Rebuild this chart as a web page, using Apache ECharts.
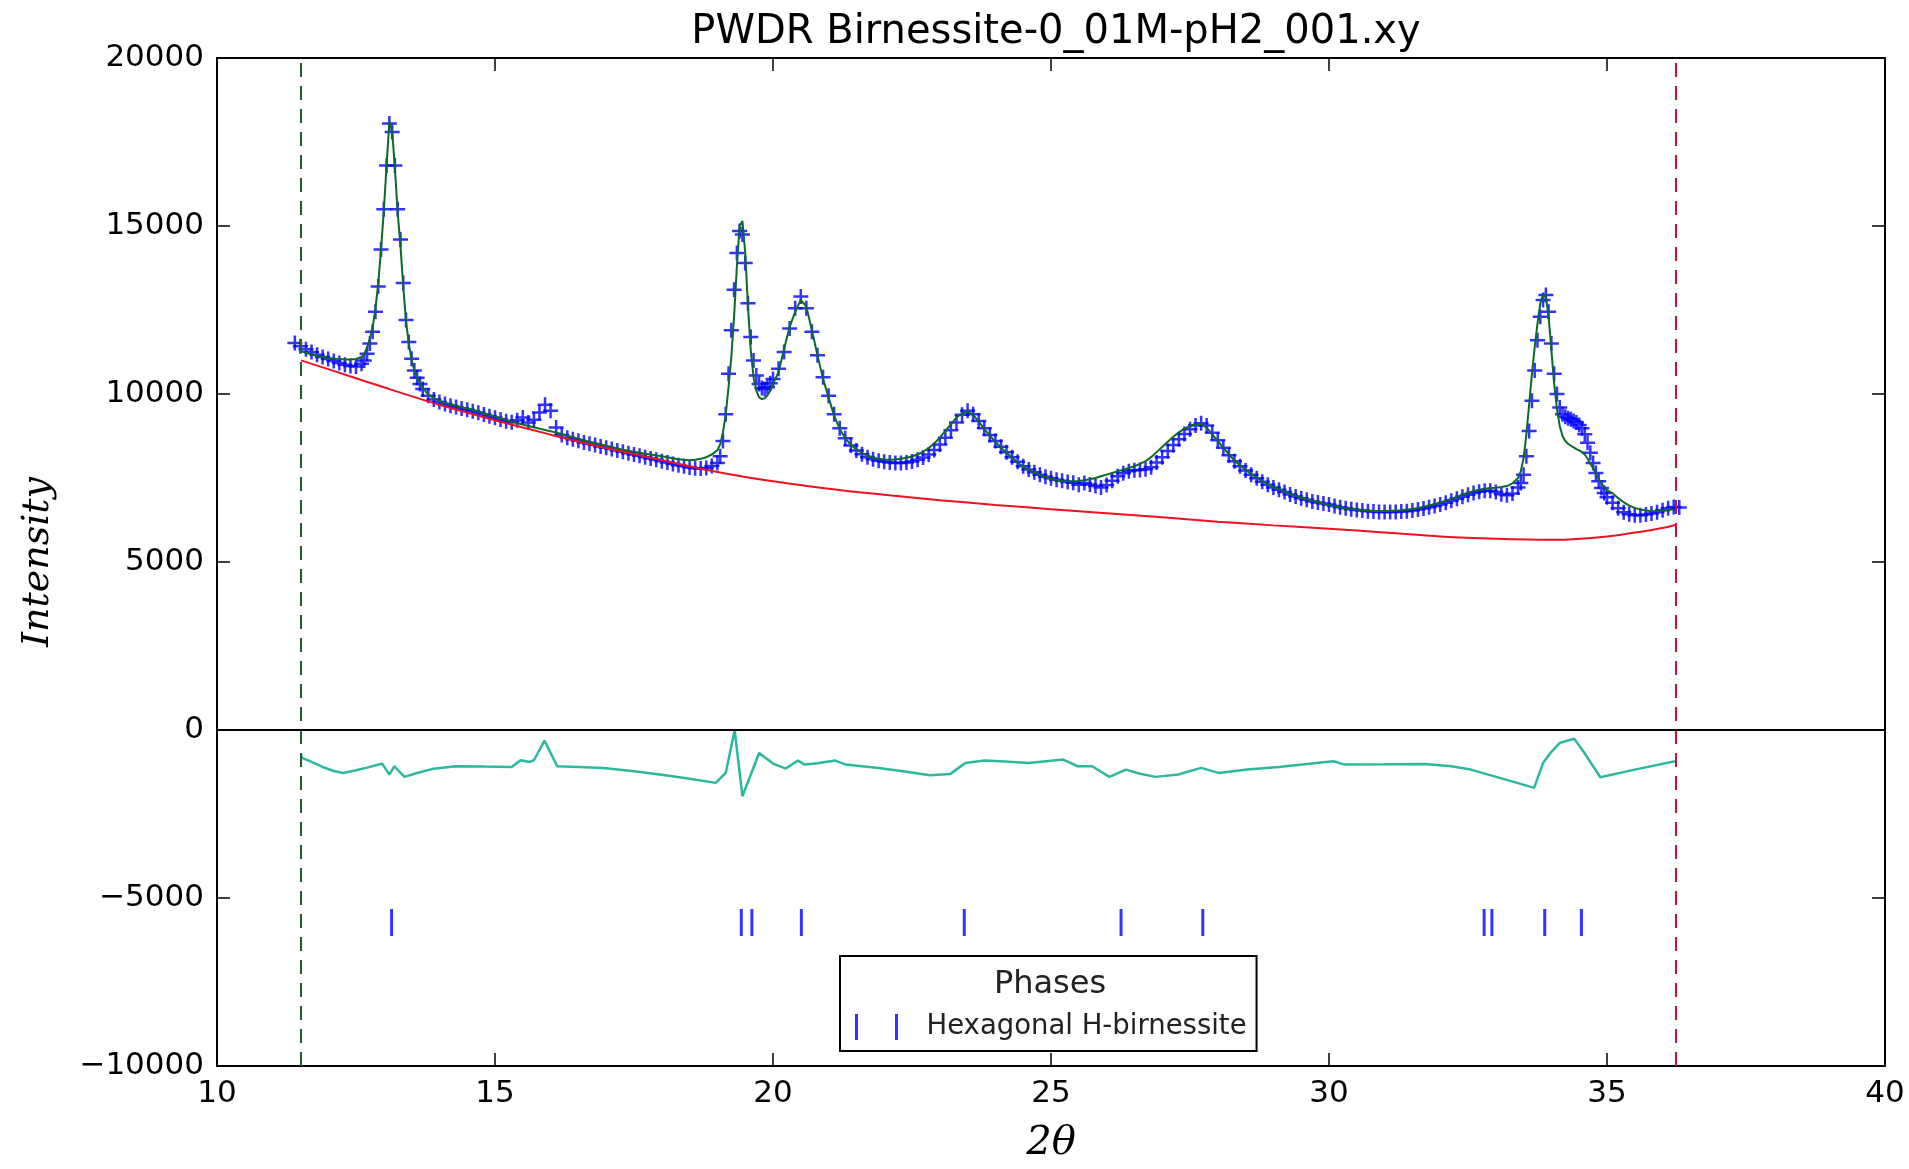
<!DOCTYPE html>
<html><head><meta charset="utf-8">
<script src="https://cdn.jsdelivr.net/npm/echarts/dist/echarts.min.js"></script>
<style>html,body{margin:0;padding:0;background:#fff}#chart{width:1909px;height:1169px}</style>
</head><body><div id="chart"></div>
<script>
// ---- data ----
const twoTheta = [
  11.4,11.5,11.6,11.7,11.8,11.9,12.0,12.1,12.2,12.3,12.4,12.5,12.6,
  12.65,12.7,12.75,12.8,12.85,12.9,12.95,13.0,13.05,13.1,13.15,13.2,13.25,13.3,13.35,13.4,13.45,13.5,13.55,13.6,13.65,13.7,
  13.8,13.9,14.0,14.1,14.2,14.3,14.4,14.5,14.6,14.7,14.8,14.9,15.0,15.1,15.2,15.3,15.4,15.5,15.6,15.7,15.8,15.9,
  16.0,16.1,16.2,16.3,16.4,16.5,16.6,16.7,16.8,16.9,17.0,17.1,17.2,17.3,17.4,17.5,17.6,17.7,17.8,17.9,
  18.0,18.1,18.2,18.3,18.4,18.5,18.6,18.7,18.8,18.9,
  19.0,19.05,19.1,19.15,19.2,19.25,19.3,19.35,19.4,19.45,19.5,19.55,19.6,19.65,19.7,19.75,19.8,19.85,19.9,19.95,
  20.0,20.1,20.2,20.3,20.4,20.5,20.6,20.7,20.8,20.9,
  21.0,21.1,21.2,21.3,21.4,21.5,21.6,21.7,21.8,21.9,
  22.0,22.1,22.2,22.3,22.4,22.5,22.6,22.7,22.8,22.9,
  23.0,23.1,23.2,23.3,23.4,23.5,23.6,23.7,23.8,23.9,
  24.0,24.1,24.2,24.3,24.4,24.5,24.6,24.7,24.8,24.9,
  25.0,25.1,25.2,25.3,25.4,25.5,25.6,25.7,25.8,25.9,
  26.0,26.1,26.2,26.3,26.4,26.5,26.6,26.7,26.8,26.9,
  27.0,27.1,27.2,27.3,27.4,27.5,27.6,27.7,27.8,27.9,
  28.0,28.1,28.2,28.3,28.4,28.5,28.6,28.7,28.8,28.9,
  29.0,29.1,29.2,29.3,29.4,29.5,29.6,29.7,29.8,29.9,
  30.0,30.1,30.2,30.3,30.4,30.5,30.6,30.7,30.8,30.9,
  31.0,31.1,31.2,31.3,31.4,31.5,31.6,31.7,31.8,31.9,
  32.0,32.1,32.2,32.3,32.4,32.5,32.6,32.7,32.8,32.9,
  33.0,33.1,33.2,33.3,33.4,
  33.45,33.5,33.55,33.6,33.65,33.7,33.75,33.8,33.85,33.9,33.95,34.0,34.05,34.1,34.15,34.2,34.25,34.3,34.35,34.4,
  34.45,34.5,34.55,34.6,34.65,34.7,34.75,34.8,34.85,34.9,34.95,35.0,
  35.1,35.2,35.3,35.4,35.5,35.6,35.7,35.8,35.9,36.0,36.1,36.2,36.3
];
const observed = [
  11520,11420,11330,11250,11170,11100,11040,10980,10920,10870,10830,10820,10900,
  11000,11200,11500,11850,12450,13200,14300,15500,16800,18050,17800,16800,15500,14600,13300,12200,11550,11050,10700,10480,10300,10150,
  9950,9840,9760,9700,9650,9610,9570,9530,9490,9440,9390,9340,9290,9240,9190,9160,9220,9300,9150,9230,9450,9680,
  9500,9000,8780,8700,8650,8610,8560,8520,8480,8440,8400,8360,8320,8280,8240,8200,8160,8120,8080,8040,
  8000,7960,7920,7880,7850,7810,7790,7780,7800,7860,
  7950,8150,8600,9400,10600,11900,13100,14200,14850,14750,13900,12700,11700,11000,10550,10300,10180,10150,10200,10320,
  10450,10750,11250,11950,12550,12900,12550,11850,11150,10500,
  9950,9400,8980,8680,8470,8320,8210,8120,8060,8010,
  7980,7960,7950,7950,7960,7990,8040,8110,8200,8330,
  8500,8700,8920,9150,9380,9500,9400,9200,8980,8780,
  8600,8430,8270,8120,7980,7850,7750,7670,7600,7540,
  7490,7450,7420,7380,7360,7300,7350,7310,7260,7220,
  7290,7420,7550,7640,7700,7730,7740,7760,7820,7960,
  8120,8300,8480,8650,8810,8950,9060,9130,9060,8850,
  8620,8400,8180,8000,7850,7720,7600,7490,7390,7300,
  7220,7150,7080,7010,6950,6900,6850,6800,6770,6740,
  6710,6670,6630,6600,6570,6550,6530,6510,6500,6490,
  6490,6490,6490,6500,6510,6530,6560,6590,6630,6670,
  6710,6760,6820,6880,6940,7000,7050,7090,7120,7120,
  7080,7020,6990,7040,7220,
  7350,7600,8150,8900,9800,10700,11600,12300,12800,12950,12450,11500,10600,10000,9600,9400,9320,9280,9250,9200,
  9150,9080,8980,8800,8550,8250,7950,7650,7400,7200,7050,6930,
  6760,6600,6480,6420,6390,6390,6410,6440,6480,6540,6600,6640,6620
];
const calculated = [
  null,11280,11230,11180,11140,11100,11070,11050,11040,11030,11030,11040,11100,
  11200,11380,11650,12000,12550,13300,14300,15450,16800,18100,17850,16700,15400,14400,13200,12150,11500,11020,10700,10490,10330,10190,
  9980,9880,9800,9740,9690,9650,9610,9570,9530,9480,9430,9380,9330,9280,9230,9180,9130,9090,9050,9010,8970,8930,
  8890,8850,8810,8760,8710,8670,8620,8580,8540,8500,8460,8420,8380,8340,8310,8280,8250,8220,8200,8170,
  8150,8120,8090,8060,8040,8030,8040,8070,8120,8200,
  8330,8500,8850,9400,10200,11100,12300,13800,15000,15150,14200,12600,11300,10500,10100,9900,9850,9870,9960,10100,
  10300,10650,11350,12000,12450,12800,12600,11900,11150,10450,
  9900,9350,8960,8680,8490,8350,8250,8170,8110,8070,
  8050,8040,8050,8070,8100,8140,8200,8280,8390,8530,
  8700,8900,9100,9300,9420,9480,9380,9180,8960,8760,
  8580,8410,8250,8100,7960,7840,7740,7660,7590,7530,
  7480,7440,7410,7400,7400,7410,7430,7460,7500,7550,
  7600,7650,7700,7750,7800,7850,7920,8000,8120,8270,
  8420,8580,8730,8860,8970,9050,9100,9100,9000,8800,
  8600,8400,8200,8020,7870,7740,7620,7510,7410,7320,
  7240,7170,7100,7030,6970,6920,6870,6820,6780,6740,
  6700,6660,6630,6600,6580,6560,6540,6530,6520,6520,
  6520,6520,6530,6540,6560,6580,6610,6640,6680,6720,
  6770,6820,6880,6940,7000,7060,7110,7150,7180,7200,
  7210,7230,7260,7340,7500,
  7700,8100,8800,9700,10600,11400,12100,12700,12950,12900,12300,11300,10300,9550,9050,8750,8600,8520,8460,8410,
  8360,8320,8270,8200,8080,7920,7800,7620,7470,7340,7230,7130,
  7050,6900,6780,6680,6610,6560,6530,6510,6510,6530,6550,6570,null
];
const bgTheta   = [11.51,12,13,14,15,16,17,18,19,20,21,22,23,24,25,26,27,28,29,30,31,32,33,34,35,36,36.23];
const background= [11000,10740,10200,9680,9220,8790,8390,8030,7680,7400,7180,7000,6840,6700,6570,6450,6330,6200,6090,5990,5880,5760,5690,5660,5760,6010,6100];
const diffTheta = [11.51,11.53,11.7,11.9,12.1,12.27,12.5,12.7,12.91,12.97,13.1,13.19,13.37,13.6,13.9,14.29,14.8,15.3,15.46,15.62,15.7,15.89,16.12,16.5,16.95,17.5,18.0,18.5,18.97,19.15,19.31,19.45,19.75,20.0,20.23,20.45,20.57,20.8,21.12,21.31,21.6,21.9,22.4,22.82,23.19,23.46,23.8,24.09,24.6,25.22,25.48,25.74,26.05,26.35,26.6,26.88,27.29,27.7,28.01,28.53,29.1,29.77,30.08,30.28,31.0,31.73,32.2,32.55,33.07,33.4,33.69,33.85,34.0,34.15,34.41,34.6,34.88,35.5,36.22];
const difference= [-720,-830,-950,-1100,-1220,-1277,-1200,-1120,-1029,-1000,-1326,-1079,-1395,-1280,-1150,-1079,-1090,-1098,-900,-950,-900,-316,-1079,-1100,-1128,-1230,-1330,-1450,-1574,-1277,0,-1970,-683,-1000,-1148,-910,-1029,-990,-910,-1029,-1080,-1128,-1240,-1346,-1306,-980,-910,-930,-980,-881,-1079,-1079,-1395,-1178,-1300,-1395,-1326,-1128,-1277,-1178,-1100,-980,-930,-1029,-1020,-1009,-1080,-1178,-1425,-1580,-1722,-980,-650,-386,-257,-700,-1405,-1180,-930];
const reflections = [13.14,19.43,19.62,20.51,23.44,26.26,27.73,32.79,32.93,33.88,34.54];
const limits = [11.51, 36.23];
const xTicks = [10,15,20,25,30,35,40];
const yTicks = [-10000,-5000,0,5000,10000,15000,20000];
const tickLevel = -5730;
const phaseName = 'Hexagonal H-birnessite';

// ---- build ----
const pair = (xs, ys) => xs.map((x,i)=>[x, ys[i]]).filter(p => p[1] !== null);
const plusPath = 'path://M10,0H14V10H24V14H14V24H10V14H0V10H10Z';
const FONT = 'DejaVu Sans';
const minus = v => v < 0 ? '\u2212' + Math.abs(v) : String(v);

const axisCommon = {
  type: 'value',
  axisLine: {show: true, onZero: false, lineStyle: {color: '#000', width: 2}},
  axisTick: {show: true, inside: true, length: 13, lineStyle: {color: '#000', width: 1.5}},
  splitLine: {show: false}
};
const xMin = xTicks[0], xMax = xTicks[xTicks.length-1], xInt = xTicks[1]-xTicks[0];
const yMin = yTicks[0], yMax = yTicks[yTicks.length-1], yInt = yTicks[1]-yTicks[0];

const chart = echarts.init(document.getElementById('chart'), null, {renderer: 'canvas'});
chart.setOption({
  animation: false,
  backgroundColor: '#fff',
  title: {
    text: 'PWDR Birnessite-0_01M-pH2_001.xy',
    left: 1051, top: 8, textAlign: 'center',
    textStyle: {fontFamily: FONT, fontSize: 40, fontWeight: 'normal', color: '#000'}
  },
  grid: {left: 217, right: 24, top: 58, bottom: 100, containLabel: false},
  xAxis: [
    Object.assign({}, axisCommon, {
      position: 'bottom', min: xMin, max: xMax, interval: xInt,
      axisLabel: {fontFamily: FONT, fontSize: 31, color: '#000', margin: 12},
      name: '2\u03b8', nameLocation: 'middle', nameGap: 58,
      nameTextStyle: {fontFamily: 'DejaVu Serif', fontStyle: 'italic', fontSize: 40, color: '#000'}
    }),
    Object.assign({}, axisCommon, {
      position: 'top', min: xMin, max: xMax, interval: xInt, axisLabel: {show: false}
    })
  ],
  yAxis: [
    Object.assign({}, axisCommon, {
      position: 'left', min: yMin, max: yMax, interval: yInt,
      axisLabel: {fontFamily: FONT, fontSize: 31, color: '#000', margin: 13, formatter: minus},
      name: 'Intensity', nameLocation: 'middle', nameGap: 160,
      nameTextStyle: {fontFamily: 'DejaVu Serif', fontStyle: 'italic', fontSize: 38, color: '#000'}
    }),
    Object.assign({}, axisCommon, {
      position: 'right', min: yMin, max: yMax, interval: yInt, axisLabel: {show: false}
    })
  ],
  legend: {
    data: [{name: phaseName, icon: 'path://M0,0H3V26H0Z M40,0H43V26H40Z'}],
    left: 840, top: 956, orient: 'vertical',
    itemWidth: 46, itemHeight: 26, itemGap: 0,
    padding: [57, 10, 10, 15],
    borderColor: '#000', borderWidth: 2, backgroundColor: '#fff',
    selectedMode: false,
    textStyle: {fontFamily: FONT, fontSize: 27.5, color: '#222', padding: [0, 0, 0, 22]}
  },
  graphic: [{
    type: 'text', x: 1050, y: 985, z: 100,
    style: {text: 'Phases', font: '32px "DejaVu Sans"', fill: '#222', textAlign: 'center', textVerticalAlign: 'middle'}
  }],
  series: [
    {
      name: 'Observed', type: 'scatter', data: pair(twoTheta, observed),
      symbol: plusPath, symbolSize: 15, z: 2,
      itemStyle: {color: '#0000ff'},
      markLine: {
        silent: true, symbol: 'none', label: {show: false},
        data: [
          {xAxis: limits[0], lineStyle: {color: '#1f5f32', width: 2, type: [14, 9]}},
          {xAxis: limits[1], lineStyle: {color: '#d0102a', width: 2, type: [14, 9]}}
        ]
      }
    },
    {
      name: 'Calculated', type: 'line', data: pair(twoTheta, calculated),
      showSymbol: false, z: 3, lineStyle: {color: '#0a6a2a', width: 2}
    },
    {
      name: 'Background', type: 'line', data: pair(bgTheta, background),
      showSymbol: false, smooth: 0.3, z: 4, lineStyle: {color: '#f01020', width: 2}
    },
    {
      name: 'Difference', type: 'line', data: pair(diffTheta, difference),
      showSymbol: false, z: 4, lineStyle: {color: '#2db89d', width: 2.5},
      markLine: {
        silent: true, symbol: 'none', label: {show: false},
        lineStyle: {color: '#000', width: 2, type: 'solid'},
        data: [{yAxis: 0}]
      }
    },
    {
      name: phaseName, type: 'scatter', data: reflections.map(r => [r, tickLevel]),
      symbol: 'rect', symbolSize: [3, 27], z: 4, itemStyle: {color: '#0000ff'}
    }
  ]
});
</script>
</body></html>
